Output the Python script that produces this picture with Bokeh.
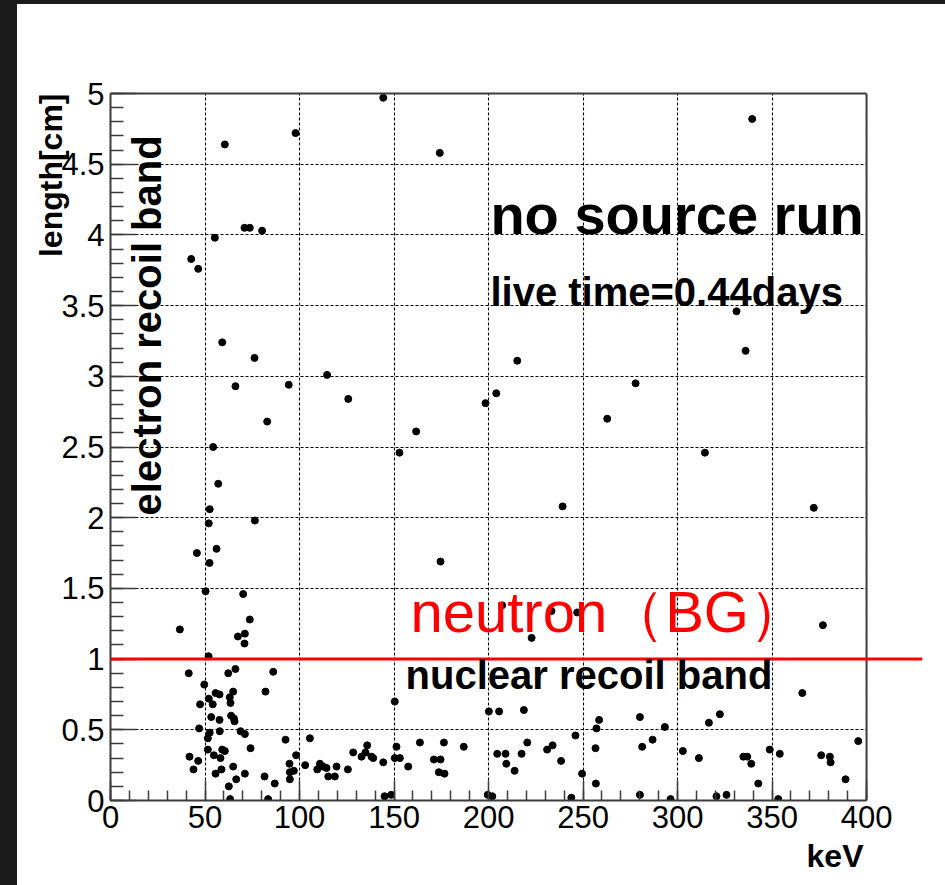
from math import pi

from bokeh.embed import file_html
from bokeh.layouts import column, row
from bokeh.models import (CustomJSTickFormatter, FixedTicker, Grid, Label, LinearAxis,
                          Range1d, SingleIntervalTicker, Spacer, Span, Title)
from bokeh.plotting import figure
from bokeh.resources import INLINE

# ---- events: recoil energy [keV] and track length [cm] ----
energy_kev = [
    144.3, 60.5, 97.9, 174.2, 70.9, 73.7, 80.2, 55.2, 42.7, 46.4, 59.1, 76.2, 114.6,
    339.5, 215.2, 336.0, 331.2,
    66.1, 94.3, 125.8, 82.9, 198.4, 204.1, 161.7, 54.3, 152.9, 57.0, 52.5, 52.0, 76.4,
    45.7, 56.1, 52.4, 174.6, 50.3, 70.2, 73.7, 36.7, 67.4, 71.1, 70.9, 51.9, 207.2,
    277.8, 262.8, 314.5, 239.2, 372.1, 233.3, 246.9, 222.8, 376.9,
    41.4, 62.3, 66.1, 86.1, 49.6, 55.6, 57.7, 64.9, 82.0, 52.0, 63.1, 63.5, 47.4, 54.1,
    150.4, 53.3, 63.8, 65.3, 65.6, 57.7, 200.2, 205.6, 46.9, 51.5, 52.5, 57.8, 68.8,
    71.1, 92.6, 105.5, 74.1, 51.5, 59.1, 60.5, 54.7, 41.8, 98.2, 128.4, 135.8, 134.9,
    132.8, 138.1, 139.0, 151.3, 150.4, 153.1, 163.7, 176.4, 186.9, 204.6, 209.0, 217.5,
    209.4, 213.8, 58.2, 46.4, 43.9, 58.7, 55.6, 64.9, 71.1, 66.5, 62.6, 63.3, 81.5,
    86.9, 83.4, 94.7, 94.9, 97.0, 94.9, 103.0, 110.8, 112.5, 109.4, 114.3, 119.6, 115.2,
    118.7, 125.6, 144.3, 145.0, 148.5, 171.1, 174.6, 157.5, 173.7, 176.7, 199.6, 202.0,
    218.7, 220.5, 231.0, 233.9, 238.4, 246.0, 243.8, 249.5, 256.6, 257.1, 258.5, 256.8,
    280.1, 281.3, 286.8, 293.3, 280.1, 296.3, 302.8, 311.3, 316.6, 322.4, 320.6, 325.9,
    334.8, 336.9, 339.0, 342.7, 348.8, 354.1, 353.3, 366.0, 376.0, 380.6, 381.0, 388.9,
    395.6,
]
length_cm = [
    4.97, 4.64, 4.72, 4.58, 4.05, 4.05, 4.03, 3.98, 3.83, 3.76, 3.24, 3.13, 3.01,
    4.82, 3.11, 3.18, 3.46,
    2.93, 2.94, 2.84, 2.68, 2.81, 2.88, 2.61, 2.50, 2.46, 2.24, 2.06, 1.96, 1.98,
    1.75, 1.78, 1.68, 1.69, 1.48, 1.46, 1.28, 1.21, 1.16, 1.18, 1.11, 1.02, 1.38,
    2.95, 2.70, 2.46, 2.08, 2.07, 1.34, 1.33, 1.15, 1.24,
    0.90, 0.90, 0.93, 0.91, 0.82, 0.76, 0.75, 0.77, 0.77, 0.72, 0.73, 0.69, 0.68, 0.68,
    0.70, 0.59, 0.60, 0.58, 0.56, 0.57, 0.63, 0.63, 0.51, 0.44, 0.48, 0.49, 0.49,
    0.47, 0.43, 0.44, 0.37, 0.36, 0.36, 0.35, 0.32, 0.31, 0.32, 0.34, 0.39, 0.34,
    0.31, 0.31, 0.30, 0.38, 0.30, 0.30, 0.41, 0.41, 0.38, 0.33, 0.33, 0.33,
    0.26, 0.21, 0.30, 0.28, 0.22, 0.22, 0.19, 0.24, 0.19, 0.15, 0.10, 0.01, 0.17,
    0.12, 0.01, 0.26, 0.20, 0.21, 0.15, 0.25, 0.26, 0.24, 0.22, 0.23, 0.24, 0.17,
    0.17, 0.22, 0.27, 0.03, 0.04, 0.29, 0.29, 0.24, 0.20, 0.19, 0.04, 0.03,
    0.64, 0.41, 0.36, 0.39, 0.28, 0.46, 0.02, 0.19, 0.37, 0.51, 0.57, 0.12,
    0.59, 0.38, 0.43, 0.52, 0.04, 0.01, 0.35, 0.30, 0.55, 0.61, 0.03, 0.04,
    0.31, 0.31, 0.26, 0.12, 0.36, 0.33, 0.01, 0.76, 0.32, 0.31, 0.27, 0.15,
    0.42,
]

# axis limits and tick spacing
x_limits = [0, 400]
y_limits = [0, 5]
x_tick_step = 50
y_tick_step = 0.5
band_cut_cm = 1.0  # electron / nuclear recoil separation

FRAME = "#3c3c3c"
FONT = "Liberation Sans"

# the frame runs a little past 400 keV so the cut line can continue beyond the box
x_view_end = 429.6

p = figure(
    width=928, height=881,
    x_range=Range1d(0, x_view_end), y_range=Range1d(*y_limits),
    x_axis_type=None, y_axis_type=None,
    output_backend="svg", toolbar_location=None,
    min_border_left=93, min_border_right=23, min_border_top=89, min_border_bottom=85,
    background_fill_color="white", border_fill_color="white",
    outline_line_color=None,
)

fmt = CustomJSTickFormatter(code="return String(Math.round(tick * 100) / 100);")

xticker = SingleIntervalTicker(interval=x_tick_step, num_minor_ticks=5)
yticker = SingleIntervalTicker(interval=y_tick_step, num_minor_ticks=5)

common_axis = dict(
    axis_line_color=FRAME, axis_line_width=2,
    major_tick_line_color=FRAME, minor_tick_line_color=FRAME,
    major_tick_line_width=1.5, minor_tick_line_width=1.5,
    major_tick_out=0, minor_tick_out=0,
    major_label_text_font=FONT, major_label_text_font_size="31px",
    major_label_text_color="black", formatter=fmt,
)

xaxis = LinearAxis(ticker=xticker, bounds=tuple(x_limits),
                   major_tick_in=20, minor_tick_in=10, major_label_standoff=5,
                   **common_axis)
p.add_layout(xaxis, "below")

yaxis = LinearAxis(ticker=yticker, major_tick_in=26, minor_tick_in=13,
                   major_label_standoff=6, **common_axis)
p.add_layout(yaxis, "left")

# top edge of the box (no ticks, no labels)
top_edge = LinearAxis(ticker=FixedTicker(ticks=[]), bounds=tuple(x_limits),
                      axis_line_color=FRAME, axis_line_width=2,
                      major_tick_in=0, major_tick_out=0, minor_tick_in=0, minor_tick_out=0,
                      major_label_text_font_size="0px")
p.add_layout(top_edge, "above")

grid_style = dict(grid_line_color="#000000", grid_line_dash="3 2", grid_line_width=1.1)
p.add_layout(Grid(dimension=0, ticker=xticker, bounds=tuple(x_limits), **grid_style))
p.add_layout(Grid(dimension=1, ticker=yticker, cross_bounds=tuple(x_limits), **grid_style))

# right edge of the box
p.add_layout(Span(location=x_limits[1], dimension="height", line_color=FRAME, line_width=2))

# events
p.scatter(energy_kev, length_cm, marker="circle", size=7,
          fill_color="black", line_color="black")

# recoil band separation
p.add_layout(Span(location=band_cut_cm, dimension="width", line_color="#ff0000", line_width=3))

def label(x, y, text, size, **kw):
    opts = dict(text_font=FONT, text_font_size=size, text_color="black",
                text_baseline="alphabetic")
    opts.update(kw)
    p.add_layout(Label(x=x, y=y, text=text, **opts))

label(201.0, 4.147, "no source run", "56px", text_font_style="bold")
label(201.0, 3.598, "live time=0.44days", "40px", text_font_style="bold")
label(156.1, 0.888, "nuclear recoil band", "40px", text_font_style="bold")
label(158.7, 1.337, "neutron（BG）", "58px", text_color="#ff0000")
label(19.15, 2.016, "electron recoil band", "40px", text_font_style="bold", angle=pi / 2)

# axis titles, pushed to the far ends of their axes
title_style = dict(text_font=FONT, text_font_size="32px", text_font_style="bold",
                   text_color="black", align="right")
p.add_layout(Title(text="length[cm]", offset=0, standoff=-20, **title_style), "left")
p.add_layout(Title(text="keV", offset=59, standoff=10, **title_style), "below")

left_band = Spacer(width=17, height=885, styles={"background-color": "#1b1b1b"})
top_band = Spacer(width=928, height=4, styles={"background-color": "#1b1b1b"})
page = row(left_band, column(top_band, p, spacing=0), spacing=0)

open("out.html", "w").write(file_html(page, INLINE))
